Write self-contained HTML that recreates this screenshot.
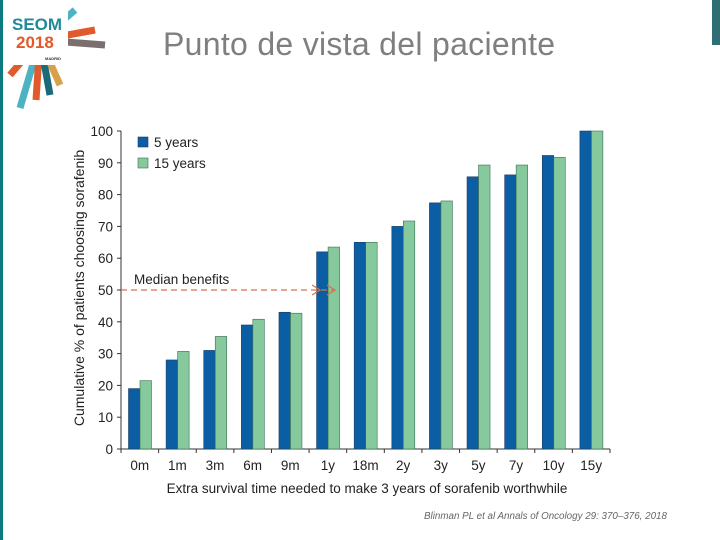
<!DOCTYPE html>
<html><head><meta charset="utf-8"><style>
body{margin:0;width:720px;height:540px;background:#fff;overflow:hidden;position:relative;font-family:"Liberation Sans",sans-serif}
.t{position:absolute;left:163px;top:26px;font-size:32px;color:#7f7f7f;font-family:"Liberation Sans",sans-serif;letter-spacing:0.3px}
.cite{position:absolute;left:424px;top:511px;font-size:9.8px;font-style:italic;color:#666}
</style></head><body>
<div style="position:absolute;left:0;top:0;width:3px;height:540px;background:#0d7a80"></div>
<div style="position:absolute;left:712px;top:0;width:8px;height:45px;background:#2f6f73"></div>
<svg style="position:absolute;left:0;top:0" width="115" height="115">
<g stroke-width="7">
<line x1="40" y1="40" x2="105" y2="45" stroke="#7a6e6e"/>
<line x1="40" y1="40" x2="95" y2="30" stroke="#e05a2b"/>
<line x1="40" y1="40" x2="20" y2="108" stroke="#4bb3c2"/>
<line x1="40" y1="40" x2="36" y2="100" stroke="#e05a2b"/>
<line x1="40" y1="40" x2="50" y2="95" stroke="#1a6a7a"/>
<line x1="40" y1="40" x2="60" y2="85" stroke="#d9a04a"/>
<line x1="40" y1="40" x2="10" y2="75" stroke="#e05a2b"/>
<line x1="40" y1="40" x2="75" y2="10" stroke="#4bb3c2"/>
<line x1="40" y1="40" x2="15" y2="15" stroke="#3d9a7a"/>
</g>
<rect x="8" y="5" width="60" height="60" fill="#fff"/>
<text x="12" y="30" font-size="17" font-weight="bold" fill="#1f8a9a" font-family="Liberation Sans">SEOM</text>
<text x="16" y="48" font-size="17" font-weight="bold" fill="#e05a2b" font-family="Liberation Sans">2018</text>
<text x="45" y="60" font-size="4" font-weight="bold" fill="#333">MADRID</text>
</svg>
<div class="t">Punto de vista del paciente</div>
<svg id="chart" style="position:absolute;left:0;top:0" width="720" height="540"></svg>
<div class="cite">Blinman PL et al Annals of Oncology 29: 370–376, 2018</div>
<script>
const categories=["0m","1m","3m","6m","9m","1y","18m","2y","3y","5y","7y","10y","15y"];
const fiveYears=[19,28,31,39,43,62,65,70,77.4,85.6,86.2,92.3,100];
const fifteenYears=[21.5,30.7,35.4,40.8,42.7,63.5,65,71.7,78,89.3,89.3,91.7,100];
const yTicks=[0,10,20,30,40,50,60,70,80,90,100];
const NS="http://www.w3.org/2000/svg";
const svg=document.getElementById('chart');
const x0=121,x1=610,y0=449,y100=131;
const gw=(x1-x0)/categories.length;
const y=v=>y0-(y0-y100)*v/100;
function mk(tag,attrs,parent){const e=document.createElementNS(NS,tag);for(const k in attrs)e.setAttribute(k,attrs[k]);(parent||svg).appendChild(e);return e;}
let ax=mk('line',{x1:x0,y1:y0,x2:x1,y2:y0,stroke:'#333','stroke-width':1});


let ay=mk('line',{x1:x0,y1:y0,x2:x0,y2:y100,stroke:'#333','stroke-width':1});


yTicks.forEach(v=>{
 mk('line',{x1:x0-4,y1:y(v),x2:x0,y2:y(v),stroke:'#333'});
 const t=mk('text',{x:x0-8,y:y(v)+5,'text-anchor':'end','font-size':13.5,fill:'#222'});
 t.textContent=v;
 
 
});
for(let i=0;i<=categories.length;i++){mk('line',{x1:x0+i*gw,y1:y0,x2:x0+i*gw,y2:y0+4,stroke:'#333'});}
categories.forEach((c,i)=>{
 const gx=x0+i*gw;
 const b=mk('rect',{x:gx+7.5,y:y(fiveYears[i]),width:11.5,height:y0-y(fiveYears[i]),fill:'#0b5ea3',stroke:'#1c3f66','stroke-width':0.6});
 
 
 const g=mk('rect',{x:gx+19,y:y(fifteenYears[i]),width:11.5,height:y0-y(fifteenYears[i]),fill:'#86c99c',stroke:'#3c6e55','stroke-width':0.6});
 
 
 const t=mk('text',{x:gx+gw/2,y:y0+21,'text-anchor':'middle','font-size':13.5,fill:'#222'});
 t.textContent=c;
 
 
});
let xt=mk('text',{x:367,y:493,'text-anchor':'middle','font-size':13.5,fill:'#222'});
xt.textContent='Extra survival time needed to make 3 years of sorafenib worthwhile';


let yt=mk('text',{x:0,y:0,'text-anchor':'middle','font-size':14,fill:'#222',transform:'translate(84,288) rotate(-90)'});
yt.textContent='Cumulative % of patients choosing sorafenib';


let l1=mk('rect',{x:138,y:137,width:10,height:10,fill:'#0b5ea3',stroke:'#1c3f66','stroke-width':0.6});


let lt1=mk('text',{x:154,y:147,'font-size':13.5,fill:'#222'});lt1.textContent='5 years';


let l2=mk('rect',{x:138,y:158,width:10,height:10,fill:'#86c99c',stroke:'#3c6e55','stroke-width':0.6});


let lt2=mk('text',{x:154,y:168,'font-size':13.5,fill:'#222'});lt2.textContent='15 years';


let mt=mk('text',{x:134,y:284,'font-size':13.5,fill:'#222'});mt.textContent='Median benefits';


let ml=mk('line',{x1:x0,y1:y(50),x2:334,y2:y(50),stroke:'#d9704a','stroke-width':1.2,'stroke-dasharray':'6,4'});


mk('polyline',{points:`${312},${y(50)-5} ${320},${y(50)} ${312},${y(50)+5}`,fill:'none',stroke:'#d9704a','stroke-width':1.2});
mk('polyline',{points:`${327},${y(50)-5} ${335},${y(50)} ${327},${y(50)+5}`,fill:'none',stroke:'#d9704a','stroke-width':1.2});
</script>
</body></html>
